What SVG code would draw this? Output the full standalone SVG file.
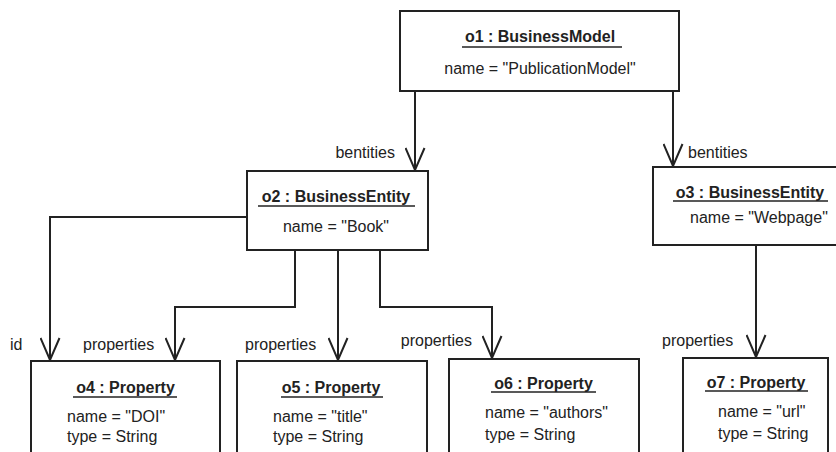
<svg xmlns="http://www.w3.org/2000/svg" width="836" height="452" viewBox="0 0 836 452">
<style>
  .box { fill: #fff; stroke: #222; stroke-width: 2; }
  .t { font-family: "Liberation Sans", Arial, sans-serif; font-size: 16px; fill: #222; }
  .title { font-weight: bold; text-anchor: middle; }
  .mid { text-anchor: middle; }
  .end { text-anchor: end; }
  .ul { stroke: #222; stroke-width: 1.5; }
  .edge { fill: none; stroke: #222; stroke-width: 2; marker-end: url(#arr); }
</style>
<defs>
  <marker id="arr" markerUnits="userSpaceOnUse" viewBox="-1 -1 25 21" refX="22" refY="9.5" markerWidth="25" markerHeight="21" orient="auto">
    <path d="M0,0 L22,9.5 L0,19" fill="none" stroke="#222" stroke-width="2"/>
  </marker>
</defs>
<rect width="836" height="452" fill="#fff"/>

<g id="connectors">
  <path class="edge" d="M415,91 V170"/>
  <path class="edge" d="M673,91 V166"/>
  <path class="edge" d="M247,217 H50 V360"/>
  <path class="edge" d="M295,250 V307 H175 V360"/>
  <path class="edge" d="M338,250 V360"/>
  <path class="edge" d="M380,250 V307 H492 V358"/>
  <path class="edge" d="M756,245 V357"/>
  <text class="t end" x="395" y="158">bentities</text>
  <text class="t" x="688" y="158">bentities</text>
  <text class="t" x="10" y="350">id</text>
  <text class="t" x="83" y="350">properties</text>
  <text class="t" x="245" y="350">properties</text>
  <text class="t end" x="472" y="346">properties</text>
  <text class="t" x="662" y="346">properties</text>
</g>

<g id="o1">
  <rect class="box" x="400" y="11" width="279" height="80"/>
  <text class="t title" x="540" y="42">o1 : BusinessModel</text>
  <line class="ul" x1="462" y1="47" x2="622" y2="47"/>
  <text class="t mid" x="540" y="74">name = "PublicationModel"</text>
</g>

<g id="o2">
  <rect class="box" x="247" y="171" width="181" height="79"/>
  <text class="t title" x="336" y="202">o2 : BusinessEntity</text>
  <line class="ul" x1="258" y1="206" x2="415" y2="206"/>
  <text class="t mid" x="336" y="232">name = "Book"</text>
</g>

<g id="o3">
  <rect class="box" x="653" y="167" width="190" height="78"/>
  <text class="t title" x="750" y="198">o3 : BusinessEntity</text>
  <line class="ul" x1="673" y1="201" x2="828" y2="201"/>
  <text class="t" x="690" y="223">name = "Webpage"</text>
</g>

<g id="o4">
  <rect class="box" x="31" y="361" width="189" height="100"/>
  <text class="t title" x="125.5" y="393">o4 : Property</text>
  <line class="ul" x1="73" y1="397" x2="177" y2="397"/>
  <text class="t" x="67" y="422">name = "DOI"</text>
  <text class="t" x="67" y="442">type = String</text>
</g>

<g id="o5">
  <rect class="box" x="237" y="361" width="190" height="100"/>
  <text class="t title" x="331" y="393">o5 : Property</text>
  <line class="ul" x1="281" y1="397" x2="383" y2="397"/>
  <text class="t" x="273" y="422">name = "title"</text>
  <text class="t" x="273" y="442">type = String</text>
</g>

<g id="o6">
  <rect class="box" x="449" y="359" width="190" height="100"/>
  <text class="t title" x="543.5" y="389">o6 : Property</text>
  <line class="ul" x1="491" y1="392" x2="596" y2="392"/>
  <text class="t" x="485" y="418">name = "authors"</text>
  <text class="t" x="485" y="440">type = String</text>
</g>

<g id="o7">
  <rect class="box" x="683" y="358" width="145" height="100"/>
  <text class="t title" x="756" y="388">o7 : Property</text>
  <line class="ul" x1="705" y1="391" x2="808" y2="391"/>
  <text class="t" x="718" y="417">name = "url"</text>
  <text class="t" x="718" y="439">type = String</text>
</g>
</svg>
